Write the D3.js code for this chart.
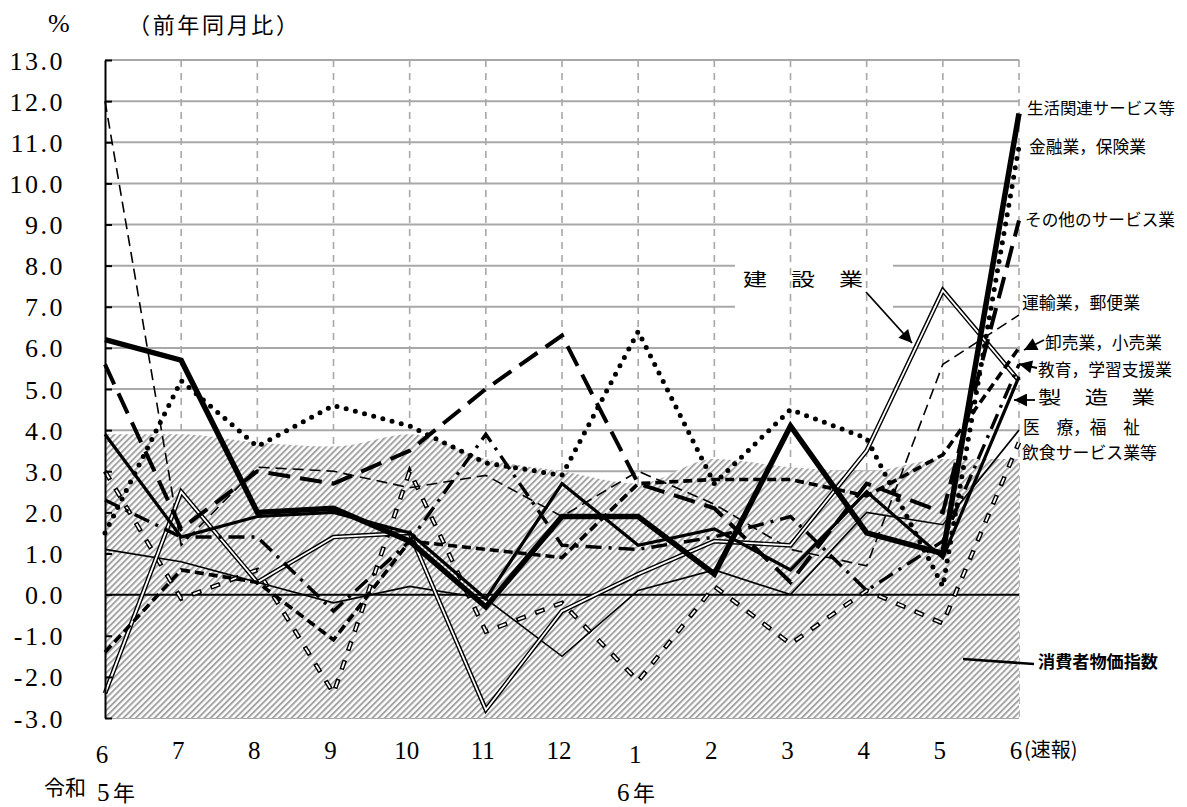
<!DOCTYPE html>
<html>
<head>
<meta charset="utf-8">
<script src="https://cdn.jsdelivr.net/npm/d3@7"></script>
<style>
  body { margin: 0; background: #fff; }
  svg { display: block; }
  .serif { font-family: "Liberation Serif", "DejaVu Serif", "Times New Roman", Times, serif; }
  .jp { font-family: "Noto Sans CJK JP", sans-serif; }
</style>
</head>
<body>
<svg id="chart" width="1187" height="807"></svg>
<script>
// --- data (前年同月比, %) ---
const months = ["6", "7", "8", "9", "10", "11", "12", "1", "2", "3", "4", "5", "6"];
const cpi = [3.9, 3.9, 3.7, 3.6, 3.9, 3.3, 3.0, 2.7, 3.3, 3.1, 3.0, 3.3, 3.3];

const seikatsu  = [6.2, 5.7, 2.0, 2.1, 1.3, -0.3, 1.9, 1.9, 0.5, 4.1, 1.5, 1.0, 11.7];
const kinyu     = [1.5, 5.2, 3.6, 4.6, 4.1, 3.2, 2.9, 6.4, 2.7, 4.5, 3.8, 0.2, 10.9];
const sonota    = [5.6, 1.6, 3.0, 2.7, 3.5, 5.0, 6.3, 2.7, 2.1, 0.3, 2.7, 2.0, 9.1];
const kensetsu  = [-2.4, 2.5, 0.3, 1.4, 1.5, -2.8, -0.4, 0.5, 1.3, 1.2, 3.5, 7.4, 5.2];
const unyu      = [12.0, 1.2, 3.1, 3.0, 2.6, 2.9, 1.9, 3.0, 2.2, 1.1, 0.7, 5.6, 6.8];
const oroshi    = [-1.4, 0.6, 0.3, -1.1, 1.3, 1.1, 0.9, 2.7, 2.8, 2.8, 2.4, 3.4, 6.0];
const kyoiku    = [2.3, 1.4, 1.4, -0.4, 1.3, 3.9, 1.2, 1.1, 1.4, 1.9, 0.1, 1.3, 5.6];
const seizo     = [3.9, 1.4, 1.9, 2.0, 1.5, -0.1, 2.7, 1.2, 1.6, 0.6, 2.5, 0.9, 5.3];
const iryo      = [1.1, 0.8, 0.3, -0.2, 0.2, -0.1, -1.5, 0.1, 0.6, 0.0, 2.0, 1.7, 4.0];
const inshoku   = [3.0, -0.1, 0.6, -2.4, 3.0, -0.9, -0.2, -2.1, 0.2, -1.2, 0.1, -0.7, 3.7];

// draw order: bottom first
const series = [
  { name: "飲食サービス業等", values: inshoku, style: "hollowDash" },
  { name: "医療，福祉", values: iryo, style: "thin" },
  { name: "運輸業，郵便業", values: unyu, style: "thinDash" },
  { name: "建設業", values: kensetsu, style: "double" },
  { name: "教育，学習支援業", values: kyoiku, style: "dashDot" },
  { name: "卸売業，小売業", values: oroshi, style: "shortDash" },
  { name: "その他のサービス業", values: sonota, style: "longDash" },
  { name: "製造業", values: seizo, style: "medium" },
  { name: "金融業，保険業", values: kinyu, style: "dotted" },
  { name: "生活関連サービス等", values: seikatsu, style: "thick" }
];

// --- scales ---
const svg = d3.select("#chart");
const x = d3.scalePoint().domain(d3.range(months.length)).range([105, 1019]);
const y = d3.scaleLinear().domain([-3, 13]).range([718, 60]);

const defs = svg.append("defs");
const pat = defs.append("pattern").attr("id", "hatch")
    .attr("patternUnits", "userSpaceOnUse")
    .attr("width", 4.4).attr("height", 4.4)
    .attr("patternTransform", "rotate(45)");
pat.append("rect").attr("width", 4.4).attr("height", 4.4).attr("fill", "#fff");
pat.append("rect").attr("width", 2).attr("height", 4.4).attr("fill", "#a4a4a4");

defs.append("marker").attr("id", "arrow")
    .attr("viewBox", "0 0 10 10").attr("refX", 10).attr("refY", 5)
    .attr("markerUnits", "userSpaceOnUse")
    .attr("markerWidth", 16).attr("markerHeight", 13)
    .attr("orient", "auto")
  .append("path").attr("d", "M0,0L10,5L0,10Z").attr("fill", "#000");

// --- grid ---
svg.append("g").selectAll("line")
  .data(d3.range(-3, 14))
  .join("line")
    .attr("x1", x(0)).attr("x2", x(months.length - 1))
    .attr("y1", d => y(d)).attr("y2", d => y(d))
    .attr("stroke", "#a8a8a8").attr("stroke-width", 2);

// white box behind 建設業 label (breaks the 7.0 gridline)
svg.append("rect").attr("x", 735).attr("y", 262).attr("width", 158).attr("height", 50).attr("fill", "#fff");

svg.append("g").selectAll("line")
  .data(d3.range(1, months.length))
  .join("line")
    .attr("x1", d => x(d)).attr("x2", d => x(d))
    .attr("y1", y(13)).attr("y2", y(-3))
    .attr("stroke", "#a8a8a8").attr("stroke-width", 1.6)
    .attr("stroke-dasharray", "7 6");

// --- CPI area ---
const area = d3.area()
    .x((d, i) => x(i))
    .y0(y(-3))
    .y1(d => y(d))
    .curve(d3.curveMonotoneX);
svg.append("path").datum(cpi).attr("d", area).attr("fill", "url(#hatch)");

// zero line
svg.append("line")
    .attr("x1", x(0)).attr("x2", x(months.length - 1))
    .attr("y1", y(0)).attr("y2", y(0))
    .attr("stroke", "#000").attr("stroke-width", 2);

// --- series lines ---
const line = d3.line().x((d, i) => x(i)).y(d => y(d));

const styles = {
  thick:      [{ w: 5.5, c: "#000" }],
  medium:     [{ w: 3.2, c: "#000" }],
  thin:       [{ w: 1.6, c: "#000" }],
  dotted:     [{ w: 5, c: "#000", dash: "0 9.5", cap: "round" }],
  longDash:   [{ w: 4, c: "#000", dash: "22 10" }],
  shortDash:  [{ w: 3.6, c: "#000", dash: "9 5" }],
  dashDot:    [{ w: 3.4, c: "#000", dash: "16 7 3 7" }],
  thinDash:   [{ w: 1.6, c: "#000", dash: "11 6" }],
  double:     [{ w: 4.6, c: "#000" }, { w: 1.8, c: "#fff" }],
  hollowDash: [{ w: 4.6, c: "#000", dash: "10 10" }, { w: 1.8, c: "#fff", dash: "7 13", offset: -1.5 }]
};

const gLines = svg.append("g").attr("fill", "none").attr("stroke-linejoin", "miter");
series.forEach(s => {
  styles[s.style].forEach(st => {
    gLines.append("path").datum(s.values)
        .attr("d", line)
        .attr("stroke", st.c)
        .attr("stroke-width", st.w)
        .attr("stroke-dasharray", st.dash || null)
        .attr("stroke-dashoffset", st.offset || null)
        .attr("stroke-linecap", st.cap || "butt");
  });
});

// --- y axis ---
const yAxis = svg.append("g").attr("transform", `translate(${x(0)},0)`)
    .call(d3.axisLeft(y).tickValues(d3.range(-3, 14)).tickSizeInner(-7).tickSizeOuter(0)
      .tickFormat(d => d.toFixed(1)));
yAxis.attr("font-family", null).attr("font-size", null);
yAxis.select(".domain").attr("stroke", "#000").attr("stroke-width", 2);
yAxis.selectAll(".tick line").attr("stroke", "#000").attr("stroke-width", 2);
yAxis.selectAll(".tick text")
    .attr("class", "serif")
    .attr("x", -40).attr("dy", "0.35em").attr("fill", "#000")
    .attr("font-size", 26).attr("letter-spacing", "2.5px");

// --- x labels ---
svg.append("g").selectAll("text")
  .data(months)
  .join("text")
    .attr("class", "serif")
    .attr("x", (d, i) => x(i) - 3)
    .attr("y", (d, i) => (i === 0 || i === 7) ? 763 : 759)
    .attr("text-anchor", "middle")
    .attr("font-size", 25)
    .text(d => d);

function addText(txt, px, py, cls, size) {
  return svg.append("text").attr("class", cls).attr("x", px).attr("y", py)
      .attr("font-size", size).text(txt);
}

addText("(速報)", 1024, 757, "jp", 20);
addText("令和", 44, 795, "jp", 21);
addText("5", 97, 801, "serif", 25);
addText("年", 113, 801, "jp", 22);
addText("6", 617, 801, "serif", 25);
addText("年", 633, 801, "jp", 22);

// --- titles ---
addText("%", 48, 32, "serif", 26);
addText("（前年同月比）", 128, 33, "jp", 22).attr("textLength", 170);

// --- series labels ---
const labels = [
  { t: "生活関連サービス等", x: 1027, y: 108, w: 148, fs: 16 },
  { t: "金融業，保険業", x: 1029, y: 147, w: 117, fs: 17.5 },
  { t: "その他のサービス業", x: 1025, y: 220, w: 150, fs: 16.5 },
  { t: "運輸業，郵便業", x: 1022, y: 303, w: 118, fs: 17.5 },
  { t: "卸売業，小売業", x: 1045, y: 343, w: 117, fs: 17.5 },
  { t: "教育，学習支援業", x: 1038, y: 370, w: 134, fs: 16.5 },
  { t: "製　造　業", x: 1038, y: 398, w: 117, fs: 18 },
  { t: "医　療，福　祉", x: 1023, y: 428, w: 117, fs: 18 },
  { t: "飲食サービス業等", x: 1022, y: 453, w: 135, fs: 17.5 },
  { t: "建　設　業", x: 743, y: 280, w: 120, fs: 18 }
];
svg.append("g").selectAll("text")
  .data(labels)
  .join("text")
    .attr("class", "jp")
    .attr("x", d => d.x).attr("y", d => d.y).attr("dy", "0.35em")
    .attr("textLength", d => d.w).attr("lengthAdjust", "spacingAndGlyphs")
    .attr("font-size", d => d.fs)
    .text(d => d.t);

addText("消費者物価指数", 1038, 662, "jp", 17)
    .attr("dy", "0.35em").attr("font-weight", "bold")
    .attr("textLength", 120).attr("lengthAdjust", "spacingAndGlyphs");

// arrows and leaders
const arrows = [
  [[866, 292], [912, 343]],
  [[1044, 340], [1024, 350]],
  [[1037, 368], [1019, 364]],
  [[1035, 400], [1014, 400]]
];
svg.append("g").selectAll("path")
  .data(arrows)
  .join("path")
    .attr("d", d => d3.line()(d))
    .attr("stroke", "#000").attr("stroke-width", 1.8)
    .attr("marker-end", "url(#arrow)");

svg.append("line").attr("x1", 963).attr("y1", 659).attr("x2", 1034).attr("y2", 664)
    .attr("stroke", "#000").attr("stroke-width", 2.5);
</script>
</body>
</html>
